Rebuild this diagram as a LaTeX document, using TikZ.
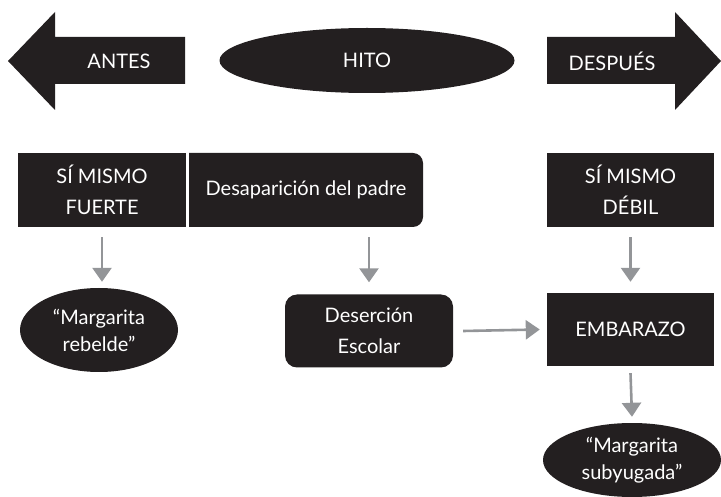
\documentclass[tikz,border=0pt]{standalone}
\usepackage{fontspec}
\setmainfont{Lato}
\usetikzlibrary{shapes.geometric,arrows.meta}
\definecolor{dark}{HTML}{231F20}
\definecolor{arrgray}{HTML}{939598}
\tikzset{
  txt/.style={text=white,font=\fontsize{20}{31}\selectfont,align=center,inner sep=0pt},
  darkbox/.style={txt,fill=dark,minimum width=#1,minimum height=74pt},
  darkell/.style={txt,fill=dark,ellipse,font=\fontsize{20}{27}\selectfont},
  flow/.style={draw=arrgray,line width=2.6pt,-{Triangle[width=19pt,length=14pt]}},
}
\begin{document}
\begin{tikzpicture}[x=1pt,y=1pt]
\useasboundingbox (0,0) rectangle (721,-497);
% big arrows
\fill[dark] (8,-61) -- (55,-12) -- (55,-37) -- (185,-37) -- (185,-84) -- (55,-84) -- (55,-110) -- cycle;
\node[txt] (antes) at (119,-61) {ANTES};
\fill[dark] (721,-61) -- (675,-12) -- (675,-37) -- (547,-37) -- (547,-84) -- (675,-84) -- (675,-110) -- cycle;
\node[txt] (despues) at (612,-61) {DESPUÉS};
\node[darkell,font=\fontsize{20}{31}\selectfont,minimum width=295pt,minimum height=65pt] (hito) at (367,-60.5) {HITO};
% row 2
\node[darkbox=168pt] (fuerte) at (102,-190) {SÍ MISMO\\FUERTE};
\fill[dark] (189,-153) -- (413,-153) arc[start angle=90,end angle=0,radius=10] -- (423,-217) arc[start angle=0,end angle=-90,radius=10] -- (189,-227) -- cycle;
\node[txt,minimum width=234pt,minimum height=74pt] (desap) at (306,-190) {Desaparición del padre};
\node[darkbox=167pt] (debil) at (630.5,-190) {SÍ MISMO\\DÉBIL};
% row 3
\node[darkell,minimum width=158pt,minimum height=84pt] (rebelde) at (99,-330) {“Margarita\\rebelde”};
\node[darkbox=168pt,rounded corners=12pt,minimum height=73pt] (desercion) at (369,-331) {Deserción\\Escolar};
\node[darkbox=167pt,minimum height=73pt] (embarazo) at (630.5,-329.5) {EMBARAZO};
% row 4
\node[darkell,minimum width=178pt,minimum height=74pt] (subyugada) at (632,-460) {“Margarita\\subyugada”};
% connectors
\draw[flow] ([yshift=-10pt]fuerte.south) -- ([yshift=6pt]fuerte.south |- rebelde.north);
\draw[flow] ([yshift=-10pt]desercion.north |- desap.south) -- ([yshift=12pt]desercion.north);
\draw[flow] ([yshift=-10pt]debil.south) -- ([yshift=11pt]embarazo.north);
\draw[flow] ([xshift=10pt]desercion.east) -- ([xshift=-7pt]embarazo.west);
\draw[flow] ([yshift=-7pt]embarazo.south) -- ([yshift=6pt]subyugada.north);
\end{tikzpicture}
\end{document}
